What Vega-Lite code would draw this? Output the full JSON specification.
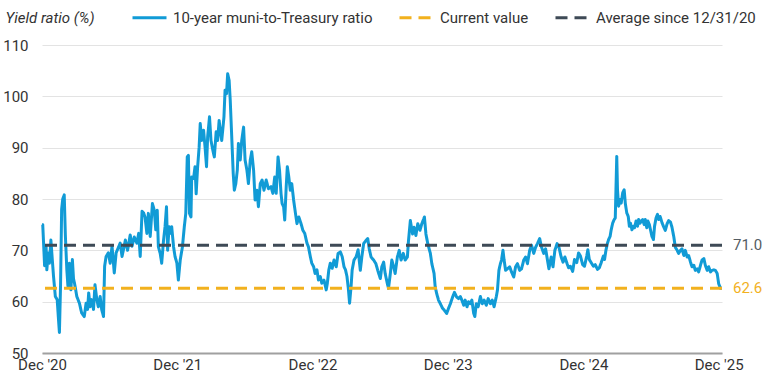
{
  "$schema": "https://vega.github.io/schema/vega-lite/v6.json",
  "width": 680,
  "height": 308,
  "autosize": {"type": "none"},
  "padding": {"left": 42, "top": 45, "right": 58, "bottom": 31},
  "background": "white",
  "config": {
    "font": "Roboto",
    "view": {"stroke": null},
    "axis": {"labelFont": "Roboto", "titleFont": "Roboto"},
    "legend": {
      "labelFont": "Roboto",
      "title": null,
      "orient": "none",
      "direction": "horizontal",
      "legendX": 89,
      "legendY": -46,
      "padding": 0,
      "symbolType": "stroke",
      "symbolSize": 1156,
      "symbolStrokeWidth": 3,
      "labelFontSize": 15,
      "labelColor": "#333333",
      "labelOffset": 5,
      "labelLimit": 400,
      "columnPadding": 20
    }
  },
  "datasets": {
    "ratio": [
      {"date": "2020-12-31", "ratio": 75},
      {"date": "2021-01-02", "ratio": 75},
      {"date": "2021-01-07", "ratio": 67},
      {"date": "2021-01-11", "ratio": 70.8},
      {"date": "2021-01-13", "ratio": 66.2},
      {"date": "2021-01-17", "ratio": 69.5},
      {"date": "2021-01-20", "ratio": 67.5},
      {"date": "2021-01-24", "ratio": 72},
      {"date": "2021-01-27", "ratio": 69},
      {"date": "2021-01-31", "ratio": 65},
      {"date": "2021-02-05", "ratio": 61},
      {"date": "2021-02-10", "ratio": 60.4},
      {"date": "2021-02-13", "ratio": 57.1},
      {"date": "2021-02-16", "ratio": 54},
      {"date": "2021-02-19", "ratio": 63},
      {"date": "2021-02-22", "ratio": 78},
      {"date": "2021-02-25", "ratio": 80},
      {"date": "2021-03-01", "ratio": 80.8},
      {"date": "2021-03-04", "ratio": 73},
      {"date": "2021-03-08", "ratio": 66.2},
      {"date": "2021-03-11", "ratio": 63},
      {"date": "2021-03-15", "ratio": 67.5},
      {"date": "2021-03-19", "ratio": 62.3},
      {"date": "2021-03-23", "ratio": 68.2},
      {"date": "2021-03-26", "ratio": 64.5},
      {"date": "2021-03-29", "ratio": 63.5},
      {"date": "2021-04-04", "ratio": 61},
      {"date": "2021-04-11", "ratio": 59.7},
      {"date": "2021-04-17", "ratio": 57.8},
      {"date": "2021-04-24", "ratio": 57.1},
      {"date": "2021-04-29", "ratio": 59.7},
      {"date": "2021-05-03", "ratio": 58.5},
      {"date": "2021-05-06", "ratio": 61.7},
      {"date": "2021-05-10", "ratio": 59},
      {"date": "2021-05-14", "ratio": 60.4},
      {"date": "2021-05-19", "ratio": 58.5},
      {"date": "2021-05-23", "ratio": 63.3},
      {"date": "2021-05-28", "ratio": 60.4},
      {"date": "2021-06-01", "ratio": 59},
      {"date": "2021-06-06", "ratio": 61},
      {"date": "2021-06-10", "ratio": 58.5},
      {"date": "2021-06-15", "ratio": 57.1},
      {"date": "2021-06-18", "ratio": 66.9},
      {"date": "2021-06-22", "ratio": 68.8},
      {"date": "2021-06-28", "ratio": 69.5},
      {"date": "2021-07-03", "ratio": 67.5},
      {"date": "2021-07-08", "ratio": 70.8},
      {"date": "2021-07-14", "ratio": 65.6},
      {"date": "2021-07-19", "ratio": 69.5},
      {"date": "2021-07-30", "ratio": 71.4},
      {"date": "2021-08-04", "ratio": 68.8},
      {"date": "2021-08-13", "ratio": 72},
      {"date": "2021-08-19", "ratio": 70},
      {"date": "2021-08-26", "ratio": 73},
      {"date": "2021-08-31", "ratio": 70.8},
      {"date": "2021-09-06", "ratio": 72.6},
      {"date": "2021-09-13", "ratio": 71.4},
      {"date": "2021-09-18", "ratio": 73.3},
      {"date": "2021-09-22", "ratio": 68.8},
      {"date": "2021-09-27", "ratio": 77.6},
      {"date": "2021-10-01", "ratio": 77.3},
      {"date": "2021-10-05", "ratio": 76.5},
      {"date": "2021-10-10", "ratio": 73.3},
      {"date": "2021-10-14", "ratio": 77.2},
      {"date": "2021-10-19", "ratio": 72.7},
      {"date": "2021-10-25", "ratio": 79.1},
      {"date": "2021-10-30", "ratio": 77.8},
      {"date": "2021-11-03", "ratio": 74},
      {"date": "2021-11-07", "ratio": 77.8},
      {"date": "2021-11-10", "ratio": 70.7},
      {"date": "2021-11-15", "ratio": 69.4},
      {"date": "2021-11-19", "ratio": 67.5},
      {"date": "2021-11-24", "ratio": 72},
      {"date": "2021-11-28", "ratio": 74.6},
      {"date": "2021-12-02", "ratio": 78.5},
      {"date": "2021-12-05", "ratio": 70},
      {"date": "2021-12-09", "ratio": 74.6},
      {"date": "2021-12-12", "ratio": 73.3},
      {"date": "2021-12-16", "ratio": 74.6},
      {"date": "2021-12-21", "ratio": 70.7},
      {"date": "2021-12-25", "ratio": 68.8},
      {"date": "2021-12-30", "ratio": 67.5},
      {"date": "2022-01-03", "ratio": 64.2},
      {"date": "2022-01-08", "ratio": 68.1},
      {"date": "2022-01-14", "ratio": 70.7},
      {"date": "2022-01-19", "ratio": 74.6},
      {"date": "2022-01-23", "ratio": 77.2},
      {"date": "2022-01-27", "ratio": 88.2},
      {"date": "2022-01-30", "ratio": 88.5},
      {"date": "2022-02-02", "ratio": 77.2},
      {"date": "2022-02-06", "ratio": 76.5},
      {"date": "2022-02-08", "ratio": 84.3},
      {"date": "2022-02-13", "ratio": 84},
      {"date": "2022-02-17", "ratio": 86.3},
      {"date": "2022-02-20", "ratio": 81},
      {"date": "2022-02-24", "ratio": 86.3},
      {"date": "2022-02-28", "ratio": 90.1},
      {"date": "2022-03-03", "ratio": 94.7},
      {"date": "2022-03-07", "ratio": 91.4},
      {"date": "2022-03-12", "ratio": 93.4},
      {"date": "2022-03-16", "ratio": 90.1},
      {"date": "2022-03-20", "ratio": 86.3},
      {"date": "2022-03-23", "ratio": 92.1},
      {"date": "2022-03-28", "ratio": 96},
      {"date": "2022-04-01", "ratio": 91.4},
      {"date": "2022-04-06", "ratio": 89.5},
      {"date": "2022-04-10", "ratio": 88.2},
      {"date": "2022-04-15", "ratio": 93.1},
      {"date": "2022-04-19", "ratio": 91.4},
      {"date": "2022-04-23", "ratio": 95.3},
      {"date": "2022-04-26", "ratio": 93.4},
      {"date": "2022-04-30", "ratio": 91.4},
      {"date": "2022-05-06", "ratio": 96},
      {"date": "2022-05-09", "ratio": 101.2},
      {"date": "2022-05-13", "ratio": 100.5},
      {"date": "2022-05-16", "ratio": 104.4},
      {"date": "2022-05-20", "ratio": 103.1},
      {"date": "2022-05-23", "ratio": 99.2},
      {"date": "2022-05-27", "ratio": 92.1},
      {"date": "2022-05-31", "ratio": 85},
      {"date": "2022-06-03", "ratio": 81.7},
      {"date": "2022-06-07", "ratio": 83},
      {"date": "2022-06-11", "ratio": 85.6},
      {"date": "2022-06-14", "ratio": 90.8},
      {"date": "2022-06-19", "ratio": 87.6},
      {"date": "2022-06-23", "ratio": 91.4},
      {"date": "2022-06-28", "ratio": 94},
      {"date": "2022-07-02", "ratio": 87.6},
      {"date": "2022-07-07", "ratio": 85.6},
      {"date": "2022-07-11", "ratio": 83},
      {"date": "2022-07-16", "ratio": 87.6},
      {"date": "2022-07-20", "ratio": 89.2},
      {"date": "2022-07-25", "ratio": 85.6},
      {"date": "2022-07-29", "ratio": 79.8},
      {"date": "2022-08-03", "ratio": 81.7},
      {"date": "2022-08-07", "ratio": 78.5},
      {"date": "2022-08-12", "ratio": 83},
      {"date": "2022-08-17", "ratio": 83.7},
      {"date": "2022-08-22", "ratio": 81.7},
      {"date": "2022-08-28", "ratio": 83.7},
      {"date": "2022-09-03", "ratio": 82},
      {"date": "2022-09-10", "ratio": 82.4},
      {"date": "2022-09-15", "ratio": 81.1},
      {"date": "2022-09-20", "ratio": 84.3},
      {"date": "2022-09-24", "ratio": 81.1},
      {"date": "2022-09-29", "ratio": 88.2},
      {"date": "2022-10-03", "ratio": 85.6},
      {"date": "2022-10-07", "ratio": 81.1},
      {"date": "2022-10-10", "ratio": 79.1},
      {"date": "2022-10-14", "ratio": 78.5},
      {"date": "2022-10-17", "ratio": 75.9},
      {"date": "2022-10-21", "ratio": 82.4},
      {"date": "2022-10-24", "ratio": 86.3},
      {"date": "2022-10-28", "ratio": 84.3},
      {"date": "2022-11-01", "ratio": 81.7},
      {"date": "2022-11-05", "ratio": 83},
      {"date": "2022-11-10", "ratio": 79.8},
      {"date": "2022-11-15", "ratio": 77.2},
      {"date": "2022-11-19", "ratio": 75.2},
      {"date": "2022-11-24", "ratio": 76.5},
      {"date": "2022-11-30", "ratio": 75.2},
      {"date": "2022-12-05", "ratio": 73.9},
      {"date": "2022-12-10", "ratio": 73.3},
      {"date": "2022-12-16", "ratio": 71.4},
      {"date": "2022-12-20", "ratio": 70.7},
      {"date": "2022-12-25", "ratio": 68.8},
      {"date": "2022-12-29", "ratio": 67.5},
      {"date": "2023-01-03", "ratio": 66.8},
      {"date": "2023-01-07", "ratio": 65.5},
      {"date": "2023-01-12", "ratio": 66.2},
      {"date": "2023-01-16", "ratio": 64.2},
      {"date": "2023-01-21", "ratio": 64.9},
      {"date": "2023-01-25", "ratio": 63.6},
      {"date": "2023-01-31", "ratio": 64.2},
      {"date": "2023-02-06", "ratio": 62.3},
      {"date": "2023-02-09", "ratio": 63.6},
      {"date": "2023-02-13", "ratio": 66.2},
      {"date": "2023-02-17", "ratio": 67.5},
      {"date": "2023-02-22", "ratio": 66.5},
      {"date": "2023-02-27", "ratio": 68.1},
      {"date": "2023-03-05", "ratio": 66.8},
      {"date": "2023-03-10", "ratio": 69.4},
      {"date": "2023-03-16", "ratio": 69.7},
      {"date": "2023-03-21", "ratio": 68.8},
      {"date": "2023-03-26", "ratio": 66.8},
      {"date": "2023-03-30", "ratio": 66.2},
      {"date": "2023-04-03", "ratio": 64.9},
      {"date": "2023-04-07", "ratio": 62.3},
      {"date": "2023-04-10", "ratio": 59.7},
      {"date": "2023-04-14", "ratio": 62.9},
      {"date": "2023-04-17", "ratio": 66.2},
      {"date": "2023-04-22", "ratio": 68.1},
      {"date": "2023-04-28", "ratio": 68.8},
      {"date": "2023-05-03", "ratio": 70.1},
      {"date": "2023-05-09", "ratio": 66.1},
      {"date": "2023-05-13", "ratio": 68.7},
      {"date": "2023-05-18", "ratio": 71.3},
      {"date": "2023-05-24", "ratio": 71.9},
      {"date": "2023-05-29", "ratio": 72.3},
      {"date": "2023-06-02", "ratio": 70.3},
      {"date": "2023-06-07", "ratio": 68.7},
      {"date": "2023-06-14", "ratio": 68.1},
      {"date": "2023-06-20", "ratio": 67.4},
      {"date": "2023-06-25", "ratio": 66.1},
      {"date": "2023-07-02", "ratio": 64.5},
      {"date": "2023-07-06", "ratio": 66.8},
      {"date": "2023-07-11", "ratio": 67.7},
      {"date": "2023-07-15", "ratio": 65.5},
      {"date": "2023-07-21", "ratio": 63.5},
      {"date": "2023-07-24", "ratio": 62.6},
      {"date": "2023-07-29", "ratio": 65.5},
      {"date": "2023-08-02", "ratio": 68.1},
      {"date": "2023-08-07", "ratio": 66.8},
      {"date": "2023-08-11", "ratio": 65.5},
      {"date": "2023-08-17", "ratio": 68.7},
      {"date": "2023-08-22", "ratio": 70},
      {"date": "2023-08-27", "ratio": 68.1},
      {"date": "2023-09-02", "ratio": 69.4},
      {"date": "2023-09-07", "ratio": 68.1},
      {"date": "2023-09-13", "ratio": 68.7},
      {"date": "2023-09-16", "ratio": 71.9},
      {"date": "2023-09-21", "ratio": 75.8},
      {"date": "2023-09-27", "ratio": 73.2},
      {"date": "2023-10-01", "ratio": 74.5},
      {"date": "2023-10-06", "ratio": 72.9},
      {"date": "2023-10-11", "ratio": 75.2},
      {"date": "2023-10-17", "ratio": 73.9},
      {"date": "2023-10-22", "ratio": 75.2},
      {"date": "2023-10-27", "ratio": 76.1},
      {"date": "2023-10-29", "ratio": 76.5},
      {"date": "2023-11-02", "ratio": 73.2},
      {"date": "2023-11-07", "ratio": 71.3},
      {"date": "2023-11-14", "ratio": 69.4},
      {"date": "2023-11-18", "ratio": 67.4},
      {"date": "2023-11-24", "ratio": 65.5},
      {"date": "2023-11-27", "ratio": 62.9},
      {"date": "2023-12-01", "ratio": 61.6},
      {"date": "2023-12-06", "ratio": 60.3},
      {"date": "2023-12-11", "ratio": 59.6},
      {"date": "2023-12-17", "ratio": 58.7},
      {"date": "2023-12-22", "ratio": 58.3},
      {"date": "2023-12-28", "ratio": 57.7},
      {"date": "2024-01-02", "ratio": 58.7},
      {"date": "2024-01-07", "ratio": 59.6},
      {"date": "2024-01-13", "ratio": 60.9},
      {"date": "2024-01-18", "ratio": 61.8},
      {"date": "2024-01-24", "ratio": 60.9},
      {"date": "2024-01-29", "ratio": 60.6},
      {"date": "2024-02-03", "ratio": 61},
      {"date": "2024-02-07", "ratio": 60.3},
      {"date": "2024-02-12", "ratio": 59.3},
      {"date": "2024-02-16", "ratio": 60.3},
      {"date": "2024-02-21", "ratio": 59},
      {"date": "2024-02-25", "ratio": 60},
      {"date": "2024-03-01", "ratio": 59.6},
      {"date": "2024-03-05", "ratio": 60.3},
      {"date": "2024-03-10", "ratio": 57.7},
      {"date": "2024-03-13", "ratio": 57.1},
      {"date": "2024-03-17", "ratio": 59.6},
      {"date": "2024-03-22", "ratio": 59},
      {"date": "2024-03-28", "ratio": 61},
      {"date": "2024-04-02", "ratio": 59.6},
      {"date": "2024-04-07", "ratio": 60.3},
      {"date": "2024-04-13", "ratio": 59.3},
      {"date": "2024-04-18", "ratio": 60.6},
      {"date": "2024-04-24", "ratio": 59.6},
      {"date": "2024-04-29", "ratio": 60.3},
      {"date": "2024-05-04", "ratio": 59},
      {"date": "2024-05-10", "ratio": 61},
      {"date": "2024-05-13", "ratio": 62.2},
      {"date": "2024-05-17", "ratio": 66.1},
      {"date": "2024-05-21", "ratio": 67.4},
      {"date": "2024-05-24", "ratio": 68.1},
      {"date": "2024-05-28", "ratio": 70},
      {"date": "2024-05-31", "ratio": 68.1},
      {"date": "2024-06-04", "ratio": 66.1},
      {"date": "2024-06-09", "ratio": 66.4},
      {"date": "2024-06-15", "ratio": 66.8},
      {"date": "2024-06-20", "ratio": 65.8},
      {"date": "2024-06-26", "ratio": 64.8},
      {"date": "2024-07-01", "ratio": 66.8},
      {"date": "2024-07-06", "ratio": 67.4},
      {"date": "2024-07-12", "ratio": 66.1},
      {"date": "2024-07-17", "ratio": 66.4},
      {"date": "2024-07-23", "ratio": 68.1},
      {"date": "2024-07-28", "ratio": 68.7},
      {"date": "2024-08-02", "ratio": 67.4},
      {"date": "2024-08-08", "ratio": 70},
      {"date": "2024-08-13", "ratio": 71},
      {"date": "2024-08-19", "ratio": 69.4},
      {"date": "2024-08-24", "ratio": 70.6},
      {"date": "2024-08-29", "ratio": 71.3},
      {"date": "2024-09-04", "ratio": 72.3},
      {"date": "2024-09-09", "ratio": 70.6},
      {"date": "2024-09-15", "ratio": 69.4},
      {"date": "2024-09-20", "ratio": 70.3},
      {"date": "2024-09-25", "ratio": 68.1},
      {"date": "2024-09-29", "ratio": 66.4},
      {"date": "2024-10-05", "ratio": 68.7},
      {"date": "2024-10-10", "ratio": 66.8},
      {"date": "2024-10-15", "ratio": 70},
      {"date": "2024-10-21", "ratio": 71.3},
      {"date": "2024-10-26", "ratio": 70.6},
      {"date": "2024-11-01", "ratio": 68.7},
      {"date": "2024-11-06", "ratio": 67.7},
      {"date": "2024-11-11", "ratio": 68.7},
      {"date": "2024-11-17", "ratio": 67.4},
      {"date": "2024-11-21", "ratio": 66.6},
      {"date": "2024-11-26", "ratio": 66.9},
      {"date": "2024-12-02", "ratio": 65.9},
      {"date": "2024-12-07", "ratio": 68.2},
      {"date": "2024-12-13", "ratio": 67.6},
      {"date": "2024-12-18", "ratio": 69.5},
      {"date": "2024-12-23", "ratio": 68.9},
      {"date": "2024-12-29", "ratio": 67.2},
      {"date": "2025-01-03", "ratio": 66.9},
      {"date": "2025-01-09", "ratio": 68.9},
      {"date": "2025-01-12", "ratio": 70.1},
      {"date": "2025-01-16", "ratio": 68.2},
      {"date": "2025-01-21", "ratio": 67.6},
      {"date": "2025-01-27", "ratio": 66.9},
      {"date": "2025-02-01", "ratio": 67.2},
      {"date": "2025-02-07", "ratio": 66.3},
      {"date": "2025-02-12", "ratio": 66.6},
      {"date": "2025-02-17", "ratio": 67.6},
      {"date": "2025-02-23", "ratio": 68.9},
      {"date": "2025-02-26", "ratio": 68.2},
      {"date": "2025-03-02", "ratio": 70.1},
      {"date": "2025-03-06", "ratio": 71.4},
      {"date": "2025-03-09", "ratio": 72.1},
      {"date": "2025-03-13", "ratio": 72.7},
      {"date": "2025-03-16", "ratio": 74},
      {"date": "2025-03-20", "ratio": 75.3},
      {"date": "2025-03-24", "ratio": 76},
      {"date": "2025-03-27", "ratio": 76.3},
      {"date": "2025-03-31", "ratio": 88.3},
      {"date": "2025-04-02", "ratio": 81.8},
      {"date": "2025-04-05", "ratio": 78.6},
      {"date": "2025-04-09", "ratio": 79.9},
      {"date": "2025-04-12", "ratio": 79.2},
      {"date": "2025-04-16", "ratio": 81.2},
      {"date": "2025-04-20", "ratio": 81.8},
      {"date": "2025-04-23", "ratio": 79.2},
      {"date": "2025-04-27", "ratio": 77.3},
      {"date": "2025-05-01", "ratio": 76.6},
      {"date": "2025-05-04", "ratio": 74.7},
      {"date": "2025-05-07", "ratio": 75.3},
      {"date": "2025-05-11", "ratio": 74},
      {"date": "2025-05-15", "ratio": 74.7},
      {"date": "2025-05-18", "ratio": 74.4},
      {"date": "2025-05-22", "ratio": 75.7},
      {"date": "2025-05-26", "ratio": 74.7},
      {"date": "2025-05-29", "ratio": 76},
      {"date": "2025-06-02", "ratio": 75.3},
      {"date": "2025-06-05", "ratio": 75.7},
      {"date": "2025-06-09", "ratio": 76},
      {"date": "2025-06-13", "ratio": 75},
      {"date": "2025-06-16", "ratio": 76},
      {"date": "2025-06-20", "ratio": 74.4},
      {"date": "2025-06-23", "ratio": 75.7},
      {"date": "2025-06-27", "ratio": 75},
      {"date": "2025-06-30", "ratio": 74},
      {"date": "2025-07-04", "ratio": 72.7},
      {"date": "2025-07-08", "ratio": 72.1},
      {"date": "2025-07-11", "ratio": 74.7},
      {"date": "2025-07-15", "ratio": 76.3},
      {"date": "2025-07-19", "ratio": 77},
      {"date": "2025-07-22", "ratio": 76},
      {"date": "2025-07-26", "ratio": 76.6},
      {"date": "2025-07-31", "ratio": 75.4},
      {"date": "2025-08-05", "ratio": 74.5},
      {"date": "2025-08-09", "ratio": 73.9},
      {"date": "2025-08-14", "ratio": 75.2},
      {"date": "2025-08-18", "ratio": 75.8},
      {"date": "2025-08-23", "ratio": 75.5},
      {"date": "2025-08-27", "ratio": 74.5},
      {"date": "2025-09-01", "ratio": 72.6},
      {"date": "2025-09-05", "ratio": 70.6},
      {"date": "2025-09-10", "ratio": 70},
      {"date": "2025-09-14", "ratio": 69.4},
      {"date": "2025-09-19", "ratio": 70},
      {"date": "2025-09-23", "ratio": 70.3},
      {"date": "2025-09-28", "ratio": 69},
      {"date": "2025-10-02", "ratio": 70},
      {"date": "2025-10-07", "ratio": 68.7},
      {"date": "2025-10-11", "ratio": 69},
      {"date": "2025-10-16", "ratio": 67.7},
      {"date": "2025-10-20", "ratio": 66.8},
      {"date": "2025-10-25", "ratio": 67.1},
      {"date": "2025-10-29", "ratio": 66.1},
      {"date": "2025-11-03", "ratio": 66.4},
      {"date": "2025-11-07", "ratio": 65.8},
      {"date": "2025-11-12", "ratio": 67.1},
      {"date": "2025-11-16", "ratio": 68.1},
      {"date": "2025-11-21", "ratio": 68.4},
      {"date": "2025-11-25", "ratio": 67.1},
      {"date": "2025-11-30", "ratio": 66.1},
      {"date": "2025-12-04", "ratio": 66.8},
      {"date": "2025-12-09", "ratio": 65.8},
      {"date": "2025-12-13", "ratio": 66.1},
      {"date": "2025-12-18", "ratio": 66.2},
      {"date": "2025-12-22", "ratio": 66.1},
      {"date": "2025-12-27", "ratio": 65.5},
      {"date": "2025-12-31", "ratio": 63.5},
      {"date": "2026-01-05", "ratio": 62.6},
      {"date": "2026-01-09", "ratio": 62.6}
    ],
    "refs": [
      {"series": "Current value", "value": 62.6, "label": "62.6", "date": "2026-01-09"},
      {"series": "Average since 12/31/20", "value": 71.0, "label": "71.0", "date": "2026-01-09"}
    ]
  },
  "layer": [
    {
      "data": {"name": "ratio"},
      "mark": {"type": "line", "strokeWidth": 3, "strokeJoin": "round"},
      "encoding": {
        "x": {
          "field": "date",
          "type": "temporal",
          "scale": {"domain": ["2020-12-31", "2026-01-09"], "nice": false},
          "axis": {
            "title": null,
            "values": [
              {"year": 2020, "month": 12, "date": 31},
              {"year": 2021, "month": 12, "date": 31},
              {"year": 2022, "month": 12, "date": 31},
              {"year": 2023, "month": 12, "date": 31},
              {"year": 2024, "month": 12, "date": 31},
              {"year": 2025, "month": 12, "date": 31}
            ],
            "format": "%b '%y",
            "grid": false,
            "ticks": false,
            "domain": true,
            "domainColor": "#a0a0a0",
            "domainWidth": 2,
            "labelPadding": 4,
            "labelFontSize": 15,
            "labelColor": "#333333",
            "labelFlush": false,
            "labelOverlap": false
          }
        },
        "y": {
          "field": "ratio",
          "type": "quantitative",
          "scale": {"domain": [50, 110], "nice": false, "zero": false},
          "axis": {
            "title": "Yield ratio (%)",
            "titleAngle": 0,
            "titleAlign": "left",
            "titleBaseline": "middle",
            "titleX": -37,
            "titleY": -28,
            "titleFontStyle": "italic",
            "titleFontWeight": "normal",
            "titleFontSize": 15,
            "titleColor": "#333333",
            "values": [50, 60, 70, 80, 90, 100, 110],
            "domain": false,
            "ticks": false,
            "grid": true,
            "gridColor": "#e3e3e3",
            "gridWidth": 1,
            "labelPadding": 14,
            "labelFontSize": 15,
            "labelColor": "#333333"
          }
        },
        "color": {
          "datum": "10-year muni-to-Treasury ratio",
          "type": "nominal",
          "scale": {
            "domain": ["10-year muni-to-Treasury ratio", "Current value", "Average since 12/31/20"],
            "range": ["#119bd6", "#f2b11e", "#3e4a56"]
          },
          "legend": {"title": null}
        },
        "strokeDash": {
          "datum": "10-year muni-to-Treasury ratio",
          "type": "nominal",
          "scale": {
            "domain": ["10-year muni-to-Treasury ratio", "Current value", "Average since 12/31/20"],
            "range": [[1, 0], [12, 7], [12, 7]]
          },
          "legend": {"title": null}
        }
      }
    },
    {
      "data": {"name": "refs"},
      "mark": {"type": "rule", "strokeWidth": 3},
      "encoding": {
        "y": {"field": "value", "type": "quantitative"},
        "color": {"field": "series", "type": "nominal", "legend": {"title": null}},
        "strokeDash": {"field": "series", "type": "nominal", "legend": {"title": null}}
      }
    },
    {
      "data": {"name": "refs"},
      "transform": [{"filter": "datum.series === 'Current value'"}],
      "mark": {"type": "text", "align": "left", "baseline": "middle", "dx": 11, "fontSize": 15, "color": "#f2b11e", "font": "Roboto"},
      "encoding": {
        "x": {"field": "date", "type": "temporal"},
        "y": {"field": "value", "type": "quantitative"},
        "text": {"field": "label"}
      }
    },
    {
      "data": {"name": "refs"},
      "transform": [{"filter": "datum.series !== 'Current value'"}],
      "mark": {"type": "text", "align": "left", "baseline": "middle", "dx": 11, "fontSize": 15, "color": "#555c63", "font": "Roboto"},
      "encoding": {
        "x": {"field": "date", "type": "temporal"},
        "y": {"field": "value", "type": "quantitative"},
        "text": {"field": "label"}
      }
    }
  ]
}
